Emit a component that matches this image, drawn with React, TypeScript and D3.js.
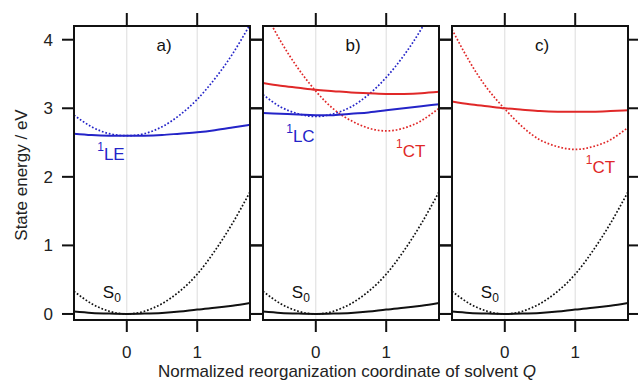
import React from "react";
import * as d3 from "d3";

// Solvent coordinate samples (Q) shared by every curve
const qValues = [-0.75, -0.5, -0.25, 0, 0.25, 0.5, 0.75, 1, 1.25, 1.5, 1.75];

// Ground state, same in every panel
const s0Diabatic = [0.33, 0.15, 0.04, 0, 0.04, 0.15, 0.33, 0.58, 0.92, 1.32, 1.78];
const s0Adiabatic = [0.035, 0.015, 0.005, 0, 0.005, 0.015, 0.035, 0.065, 0.09, 0.12, 0.16];

// a) locally excited state
const leDiabatic = [2.9, 2.73, 2.63, 2.6, 2.63, 2.73, 2.9, 3.13, 3.43, 3.79, 4.22];
const leAdiabatic = [2.63, 2.61, 2.6, 2.6, 2.6, 2.61, 2.63, 2.65, 2.68, 2.72, 2.76];

// b) mixed LC / CT
const lcDiabaticB = [3.2, 3.02, 2.92, 2.88, 2.92, 3.02, 3.2, 3.45, 3.77, 4.16, 4.63];
const ctDiabaticB = [4.45, 3.98, 3.58, 3.25, 2.99, 2.82, 2.71, 2.67, 2.71, 2.82, 3.0];
const upperAdiabaticB = [3.37, 3.33, 3.3, 3.27, 3.25, 3.23, 3.22, 3.21, 3.21, 3.22, 3.24];
const lowerAdiabaticB = [2.93, 2.92, 2.91, 2.9, 2.9, 2.92, 2.94, 2.97, 3.0, 3.03, 3.06];

// c) charge transfer
const ctDiabaticC = [4.15, 3.68, 3.29, 2.99, 2.73, 2.54, 2.44, 2.4, 2.44, 2.54, 2.72];
const ctAdiabaticC = [3.1, 3.06, 3.03, 3.0, 2.98, 2.96, 2.95, 2.95, 2.95, 2.96, 2.97];

const xTicks = [0, 1];
const yTicks = [0, 1, 2, 3, 4];

const BLUE = "#2424c8";
const RED = "#e02828";
const BLACK = "#111";

type Curve = { values: number[]; color: string; dotted: boolean };
type Label = { q: number; e: number; sup?: string; text: string; sub?: string; color: string };
type Panel = { name: string; curves: Curve[]; labels: Label[] };

const s0Curves: Curve[] = [
  { values: s0Diabatic, color: BLACK, dotted: true },
  { values: s0Adiabatic, color: BLACK, dotted: false },
];
const s0Label: Label = { q: -0.34, e: 0.23, text: "S", sub: "0", color: BLACK };

const panels: Panel[] = [
  {
    name: "a)",
    curves: [
      ...s0Curves,
      { values: leDiabatic, color: BLUE, dotted: true },
      { values: leAdiabatic, color: BLUE, dotted: false },
    ],
    labels: [s0Label, { q: -0.42, e: 2.25, sup: "1", text: "LE", color: BLUE }],
  },
  {
    name: "b)",
    curves: [
      ...s0Curves,
      { values: lcDiabaticB, color: BLUE, dotted: true },
      { values: ctDiabaticB, color: RED, dotted: true },
      { values: upperAdiabaticB, color: RED, dotted: false },
      { values: lowerAdiabaticB, color: BLUE, dotted: false },
    ],
    labels: [
      s0Label,
      { q: -0.42, e: 2.51, sup: "1", text: "LC", color: BLUE },
      { q: 1.14, e: 2.29, sup: "1", text: "CT", color: RED },
    ],
  },
  {
    name: "c)",
    curves: [
      ...s0Curves,
      { values: ctDiabaticC, color: RED, dotted: true },
      { values: ctAdiabaticC, color: RED, dotted: false },
    ],
    labels: [s0Label, { q: 1.15, e: 2.06, sup: "1", text: "CT", color: RED }],
  },
];

const W = 638;
const H = 380;
const top = 26;
const bottom = 320;
const panelLeft = [74, 263, 452];
const panelW = 176;
const tickLen = 12;
const font = "'Liberation Sans', Arial, sans-serif";

export default function App() {
  const y = d3.scaleLinear().domain([-0.088, 4.2]).range([bottom, top]);

  return (
    <svg width={W} height={H} style={{ position: "absolute", left: 0, top: 0 }} fontFamily={font}>
      <rect width={W} height={H} fill="#fff" />
      {panels.map((p, pi) => {
        const x0 = panelLeft[pi];
        const x = d3.scaleLinear().domain([-0.75, 1.75]).range([x0, x0 + panelW]);
        const line = d3
          .line<number>()
          .x((_, i) => x(qValues[i]))
          .y((d) => y(d))
          .curve(d3.curveNatural);
        const clipId = `clip-${pi}`;
        return (
          <g key={p.name}>
            <clipPath id={clipId}>
              <rect x={x0} y={top} width={panelW} height={bottom - top} />
            </clipPath>
            {xTicks.map((t) => (
              <line key={t} x1={x(t)} x2={x(t)} y1={top} y2={bottom} stroke="#dcdcdc" strokeWidth={1} />
            ))}
            <g clipPath={`url(#${clipId})`}>
              {p.curves.map((c, ci) => (
                <path
                  key={ci}
                  d={line(c.values) ?? ""}
                  fill="none"
                  stroke={c.color}
                  strokeWidth={c.dotted ? 1.7 : 2}
                  strokeDasharray={c.dotted ? "1.7 1.9" : undefined}
                />
              ))}
            </g>
            {p.labels.map((l, li) => (
              <text key={li} x={x(l.q)} y={y(l.e)} fill={l.color} fontSize={17}>
                {l.sup && (
                  <tspan fontSize={12} dy={-9}>
                    {l.sup}
                  </tspan>
                )}
                <tspan dy={l.sup ? 9 : 0}>{l.text}</tspan>
                {l.sub && (
                  <tspan fontSize={12} dy={4}>
                    {l.sub}
                  </tspan>
                )}
              </text>
            ))}
            <text x={x(0.53)} y={y(3.83)} fontSize={17} textAnchor="middle" fill="#111">
              {p.name}
            </text>
            {/* frame */}
            <rect x={x0} y={top} width={panelW} height={bottom - top} fill="none" stroke="#111" strokeWidth={2} />
            {xTicks.map((t) => (
              <g key={t}>
                <line x1={x(t)} x2={x(t)} y1={top} y2={top - tickLen - 1} stroke="#111" strokeWidth={2} />
                <line x1={x(t)} x2={x(t)} y1={bottom} y2={bottom + tickLen} stroke="#111" strokeWidth={2} />
                <text x={x(t)} y={358} fontSize={17} textAnchor="middle" fill="#222">
                  {t}
                </text>
              </g>
            ))}
            {yTicks.map((t) => (
              <g key={t}>
                <line x1={x0} x2={x0 - tickLen} y1={y(t)} y2={y(t)} stroke="#111" strokeWidth={2} />
                <line x1={x0 + panelW} x2={x0 + panelW + tickLen} y1={y(t)} y2={y(t)} stroke="#111" strokeWidth={2} />
              </g>
            ))}
          </g>
        );
      })}
      {yTicks.map((t) => (
        <text key={t} x={53} y={y(t)} dy="0.35em" fontSize={17} textAnchor="end" fill="#222">
          {t}
        </text>
      ))}
      <text transform={`translate(27,175) rotate(-90)`} fontSize={17} textAnchor="middle" fill="#222">
        State energy / eV
      </text>
      <text x={347} y={377} fontSize={17} textAnchor="middle" fill="#222">
        Normalized reorganization coordinate of solvent <tspan fontStyle="italic">Q</tspan>
      </text>
    </svg>
  );
}
